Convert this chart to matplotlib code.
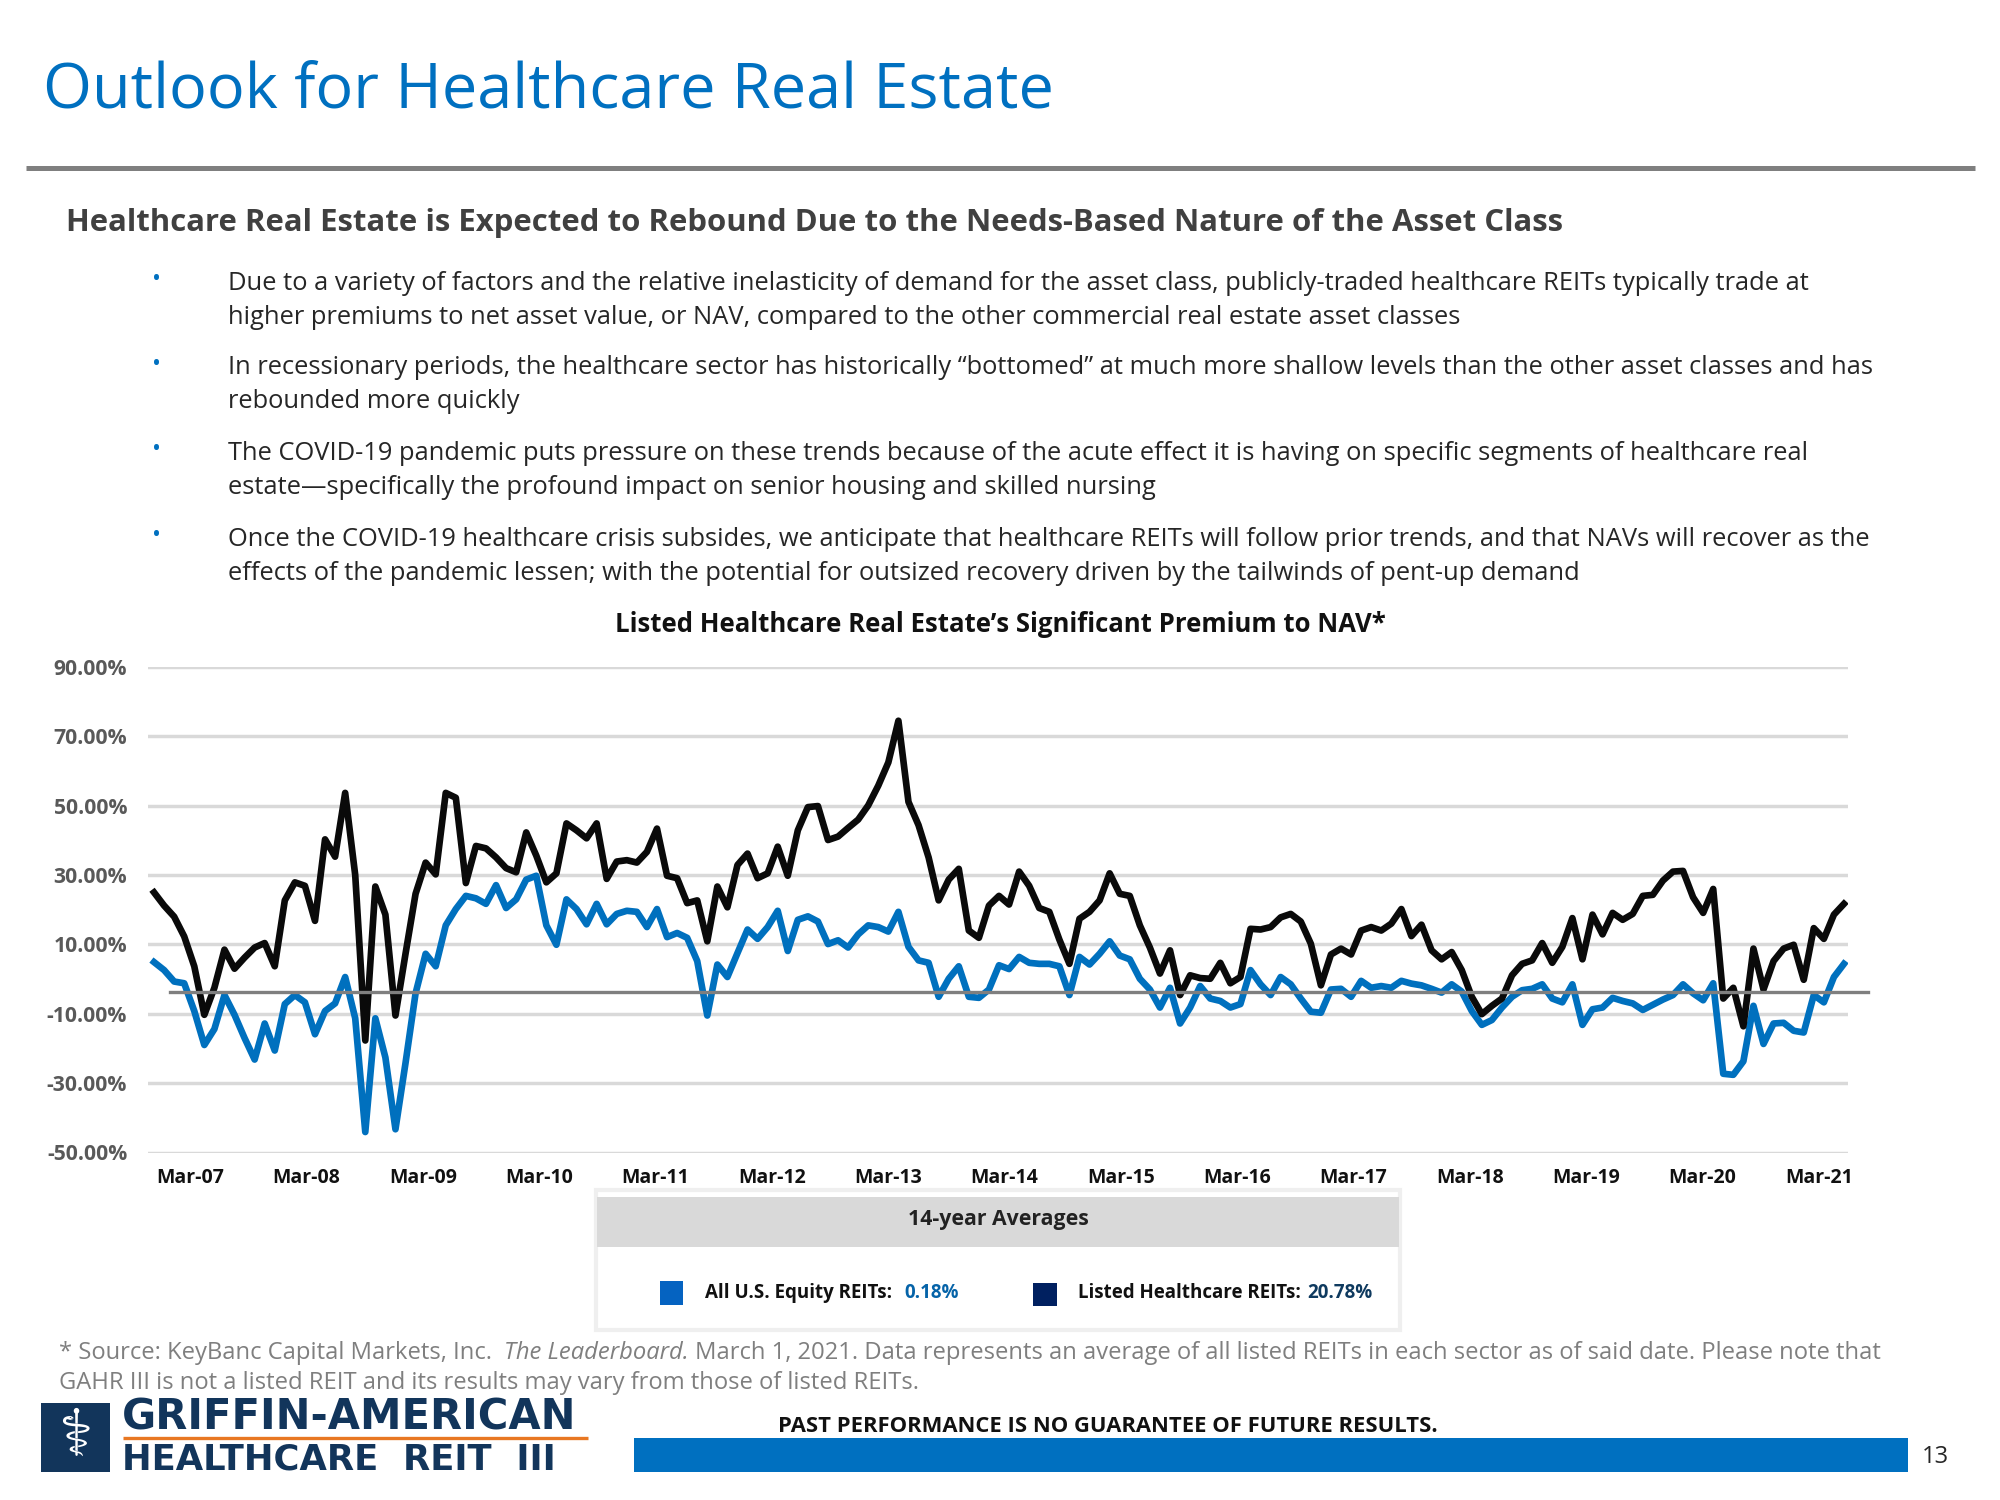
import numpy as np
import matplotlib
matplotlib.use('Agg')
import matplotlib.pyplot as plt
from matplotlib.patches import Rectangle

# monthly premium to NAV, Mar-07 to Mar-21
healthcare = [25.0, 21.2, 18.0, 12.3, 3.7, -10.3, -2.5, 8.5, 3.0, 6.2, 9.1, 10.4, 3.7, 22.7, 27.9, 26.9, 16.8, 40.3, 35.3, 53.7,
              30.0, -17.7, 26.7, 18.6, -10.5, 7.3, 24.6, 33.6, 30.2, 53.7, 52.3, 27.7, 38.4, 37.7, 35.1, 32.0, 30.8, 42.3, 35.6, 27.9,
              30.5, 44.9, 42.9, 40.6, 44.9, 28.9, 33.9, 34.3, 33.6, 36.7, 43.4, 29.8, 29.1, 21.9, 22.7, 10.9, 26.7, 20.7, 32.9, 36.2,
              29.1, 30.5, 38.2, 29.8, 42.9, 49.6, 49.9, 40.1, 41.1, 43.6, 46.0, 50.1, 55.8, 62.5, 74.5, 51.1, 44.4, 35.1, 22.7, 28.7,
              31.8, 14.0, 11.9, 21.2, 24.0, 21.5, 31.0, 26.9, 20.5, 19.4, 11.4, 4.4, 17.4, 19.4, 22.7, 30.5, 24.6, 24.0, 15.5, 9.1,
              1.6, 8.3, -4.6, 1.1, 0.3, 0.1, 4.7, -1.2, 0.6, 14.5, 14.3, 15.0, 17.8, 18.8, 16.6, 10.2, -1.8, 7.1, 8.8, 7.1,
              14.0, 15.0, 14.0, 16.0, 20.2, 12.4, 15.7, 8.3, 5.7, 7.8, 2.6, -5.1, -10.1, -7.7, -5.6, 1.1, 4.4, 5.4, 10.4, 4.7,
              9.3, 17.6, 5.7, 18.6, 12.9, 19.1, 17.1, 18.8, 24.0, 24.3, 28.4, 31.0, 31.2, 23.6, 19.1, 26.0, -5.6, -2.5, -13.6, 8.8,
              -3.0, 5.2, 8.8, 9.9, -0.2, 14.7, 11.6, 18.6, 21.7]
equity = [4.9, 2.6, -0.7, -1.2, -9.2, -19.0, -14.4, -4.6, -10.3, -17.0, -23.2, -12.8, -20.6, -7.2, -4.6, -6.7, -15.9, -9.2, -7.0, 0.6,
          -11.3, -44.1, -11.3, -22.6, -43.3, -24.2, -4.1, 7.3, 3.7, 15.5, 20.2, 24.0, 23.3, 21.7, 27.1, 20.5, 23.0, 28.7, 29.8, 15.5,
          9.9, 23.0, 20.2, 15.8, 21.7, 15.8, 18.8, 19.7, 19.4, 15.0, 20.2, 12.1, 13.3, 11.9, 5.2, -10.5, 4.2, 0.6, 7.5, 14.3,
          11.6, 15.0, 19.7, 8.1, 17.1, 18.1, 16.6, 10.1, 11.2, 9.1, 12.9, 15.5, 15.0, 13.7, 19.4, 9.3, 5.4, 4.7, -5.1, 0.1,
          3.7, -5.1, -5.4, -3.0, 4.0, 2.9, 6.4, 4.7, 4.4, 4.4, 3.7, -4.6, 6.4, 4.2, 7.3, 10.9, 6.8, 5.7, 0.1, -3.0,
          -8.2, -2.5, -12.8, -8.2, -2.0, -5.6, -6.3, -8.2, -7.2, 2.6, -1.5, -4.6, 0.6, -1.5, -5.6, -9.4, -9.7, -3.0, -2.8, -5.1,
          -0.5, -2.5, -2.0, -2.5, -0.5, -1.3, -1.8, -2.8, -3.9, -1.5, -3.6, -9.2, -13.2, -11.8, -8.2, -5.1, -3.2, -2.8, -1.5, -5.6,
          -6.7, -1.5, -13.2, -8.7, -8.2, -5.4, -6.3, -7.0, -8.9, -7.4, -5.9, -4.6, -1.5, -4.1, -6.1, -1.2, -27.3, -27.6, -23.7, -7.7,
          -18.7, -12.8, -12.6, -14.9, -15.4, -4.6, -6.7, 0.6, 4.4]
ref_level = -3.76
y_ticks = [-50, -30, -10, 10, 30, 50, 70, 90]
y_labels = ['-50.00%', '-30.00%', '-10.00%', '10.00%', '30.00%', '50.00%', '70.00%', '90.00%']
x_labels = ['Mar-07', 'Mar-08', 'Mar-09', 'Mar-10', 'Mar-11', 'Mar-12', 'Mar-13', 'Mar-14',
            'Mar-15', 'Mar-16', 'Mar-17', 'Mar-18', 'Mar-19', 'Mar-20', 'Mar-21']

bullets = [
    ['Due to a variety of factors and the relative inelasticity of demand for the asset class, publicly-traded healthcare REITs typically trade at',
     'higher premiums to net asset value, or NAV, compared to the other commercial real estate asset classes'],
    ['In recessionary periods, the healthcare sector has historically \u201cbottomed\u201d at much more shallow levels than the other asset classes and has',
     'rebounded more quickly'],
    ['The COVID-19 pandemic puts pressure on these trends because of the acute effect it is having on specific segments of healthcare real',
     'estate\u2014specifically the profound impact on senior housing and skilled nursing'],
    ['Once the COVID-19 healthcare crisis subsides, we anticipate that healthcare REITs will follow prior trends, and that NAVs will recover as the',
     'effects of the pandemic lessen; with the potential for outsized recovery driven by the tailwinds of pent-up demand'],
]
bullet_y = [(283, 318), (368, 402), (453, 488), (539, 574)]

BLUE = '#0070C0'
plt.rcParams['font.family'] = ['Open Sans', 'DejaVu Sans']

fig = plt.figure(figsize=(20, 15), dpi=100)

# page layer, in pixels of the slide
page = fig.add_axes([0, 0, 1, 1])
page.set_xlim(0, 2000)
page.set_ylim(1500, 0)
page.axis('off')

page.text(43, 91, 'Outlook for Healthcare Real Estate', fontsize=45.4, color=BLUE, va='center')
page.plot([26, 1975], [168, 168], color='#7F7F7F', lw=3.6, solid_capstyle='butt')
page.text(66, 223, 'Healthcare Real Estate is Expected to Rebound Due to the Needs-Based Nature of the Asset Class',
          fontsize=22.4, fontweight='bold', color='#404040', va='center')

for lines, ys in zip(bullets, bullet_y):
    page.text(157, ys[0] - 3, '\u2022', fontsize=17, color=BLUE, va='center', ha='center')
    for line, y in zip(lines, ys):
        page.text(228, y, line, fontsize=18.4, color='#262626', va='center')

page.text(1000, 624, 'Listed Healthcare Real Estate\u2019s Significant Premium to NAV*',
          fontsize=18.5, fontweight='bold', color='#111111', va='center', ha='center')

# averages box
page.add_patch(Rectangle((596, 1190), 804, 140, fc='white', ec='#EFEFEF', lw=3))
page.add_patch(Rectangle((597, 1197), 802, 50, fc='#D9D9D9', ec='none'))
page.text(998, 1219, '14-year Averages', fontsize=15.3, fontweight='bold', color='#222222', va='center', ha='center')
page.add_patch(Rectangle((660, 1281), 23, 24, fc='#0563C1', ec='none'))
page.add_patch(Rectangle((1033, 1283), 24, 23, fc='#002060', ec='none'))
page.text(705, 1293, 'All U.S. Equity REITs:', fontsize=13.5, fontweight='bold', color='#111111', va='center')
page.text(904, 1293, '0.18%', fontsize=13.5, fontweight='bold', color='#0563A8', va='center')
page.text(1078, 1293, 'Listed Healthcare REITs:', fontsize=13.5, fontweight='bold', color='#111111', va='center')
page.text(1307, 1293, '20.78%', fontsize=13.5, fontweight='bold', color='#0F3A5F', va='center')

# footnote
foot_x = 59
t = page.text(foot_x, 1353, '* Source: KeyBanc Capital Markets, Inc. ', fontsize=17.1, color='#7F7F7F', va='center')
fig.canvas.draw()
x1 = page.transData.inverted().transform(t.get_window_extent().get_points())[1, 0]
t = page.text(x1 + 6, 1353, 'The Leaderboard.', fontsize=17.1, color='#7F7F7F', va='center', fontstyle='italic')
x2 = page.transData.inverted().transform(t.get_window_extent().get_points())[1, 0]
page.text(x2 + 6, 1353, 'March 1, 2021. Data represents an average of all listed REITs in each sector as of said date. Please note that',
          fontsize=17.1, color='#7F7F7F', va='center')
page.text(foot_x, 1383, 'GAHR III is not a listed REIT and its results may vary from those of listed REITs.',
          fontsize=17.1, color='#7F7F7F', va='center')

# logo and footer
NAVY = '#12355B'
page.add_patch(Rectangle((41, 1403), 69, 69, fc=NAVY, ec='none'))
page.text(75.5, 1437, '\u2695', fontsize=46, color='white', family='DejaVu Sans', va='center', ha='center')
page.text(122, 1417, 'GRIFFIN-AMERICAN', fontsize=30, fontweight='bold', color=NAVY, family='DejaVu Sans', va='center')
page.plot([123, 588], [1438, 1438], color='#E87722', lw=2.4, solid_capstyle='butt')
page.text(122, 1460, 'HEALTHCARE  REIT  III', fontsize=25.5, fontweight='bold', color=NAVY, family='DejaVu Sans', va='center')
page.add_patch(Rectangle((634, 1438), 1274, 34, fc=BLUE, ec='none'))
page.text(1108, 1427, 'PAST PERFORMANCE IS NO GUARANTEE OF FUTURE RESULTS.', fontsize=15.8, fontweight='bold',
          color='#111111', va='center', ha='center')
page.text(1935, 1457, '13', fontsize=17, color='#262626', va='center', ha='center')

# chart
ax = fig.add_axes([148 / 2000, 1 - 1152.5 / 1500, 1700 / 2000, 485.5 / 1500])
ax.patch.set_alpha(0)
months = np.arange(len(healthcare))
ax.plot(months, equity, color='#0070BE', lw=4.8, solid_joinstyle='round', zorder=3)
ax.plot(months, healthcare, color='#0A0A0A', lw=4.8, solid_joinstyle='round', zorder=4)
ax.plot([1.6, 170.4], [ref_level, ref_level], color='#7F7F7F', lw=2.4, zorder=5, clip_on=False)

ax.set_xlim(-0.6, 168.4)
ax.set_ylim(-50, 90)
ax.set_yticks(y_ticks)
ax.set_yticklabels(y_labels, fontsize=15.2, fontweight='bold', color='#595959')
ax.set_xticks(np.linspace(3.6, 165.5, len(x_labels)))
ax.set_xticklabels(x_labels, fontsize=14, fontweight='bold', color='#111111')
ax.tick_params(axis='both', length=0)
ax.tick_params(axis='y', pad=15)
ax.tick_params(axis='x', pad=11)
ax.grid(axis='y', color='#D9D9D9', lw=2.5)
ax.set_axisbelow(True)
for s in ax.spines.values():
    s.set_visible(False)

fig.savefig('out.png', dpi=100)
